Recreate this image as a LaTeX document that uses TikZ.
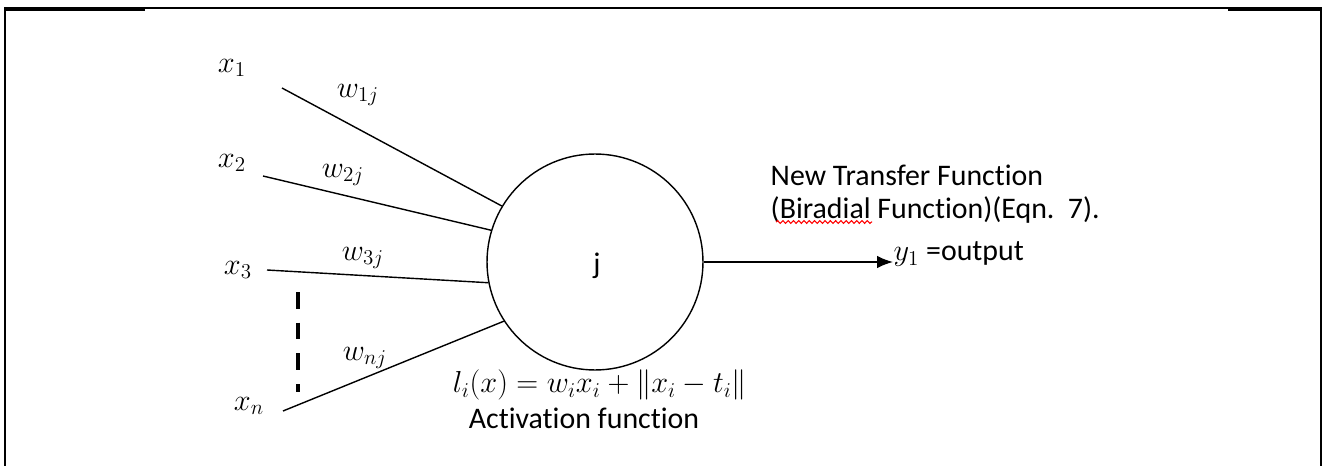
\documentclass[tikz,border=0pt]{standalone}
\usepackage{amsmath,amssymb}
\usepackage{fontspec}
\setmainfont[Ligatures=NoCommon]{Carlito}
\usepackage{tikz}
\usetikzlibrary{arrows.meta,decorations.pathmorphing}

\begin{document}
\begin{tikzpicture}[x=0.02cm,y=-0.02cm,line width=0.8pt,
  lbl/.style={font=\fontsize{18}{21}\selectfont,inner sep=0pt},
  txt/.style={font=\fontsize{17}{20}\selectfont,inner sep=0pt}]
  \useasboundingbox (0,0) rectangle (1326,466);
  % frame
  \draw (5,466) -- (5,8) -- (1321,8) -- (1321,466);
  \draw[line width=1.6pt] (5,10) -- (145,10); \draw[line width=1.6pt] (1228,10) -- (1321,10);
  % neuron j
  \node[draw,circle,minimum size=4.32cm,inner sep=0pt] (nj) at (595,262) {};
  \node[txt] (jlab) at (597,266) {j};
  % inputs and weights
  \node[lbl] (x1) at (232,68) {$x_1$}; \coordinate (s1) at (282,88);
  \node[lbl] (x2) at (232,163) {$x_2$}; \coordinate (s2) at (263,176);
  \node[lbl] (x3) at (238,270) {$x_3$}; \coordinate (s3) at (267,270);
  \node[lbl] (xn) at (249,406) {$x_n$}; \coordinate (sn) at (283,411);
  \draw (s1) -- (nj.149); \node[lbl] (w1) at (358,95) {$w_{1j}$};
  \draw (s2) -- (nj.163); \node[lbl] (w2) at (343,175) {$w_{2j}$};
  \draw (s3) -- (nj.191); \node[lbl] (w3) at (363,258) {$w_{3j}$};
  \draw (sn) -- (nj.213); \node[lbl] (wn) at (365,358) {$w_{nj}$};
  \draw[line width=2pt,dash pattern=on 9.5pt off 8pt] (298,292) -- (298,392);
  % activation
  \node[lbl] (act) at (600,385) {$l_i(x) = w_i x_i + \lVert x_i - t_i \rVert$};
  \node[txt] (actname) at (584,418) {Activation function};
  % output
  \node[txt,anchor=west] (tf1) at (770,175) {New Transfer Function};
  \node[txt,anchor=west] (tf2) at (770,210) {(Biradial Function)(Eqn.\ \ 7).};
  \draw[red,line width=0.6pt,decorate,decoration={snake,amplitude=0.8pt,segment length=3pt}] (776,222) -- (872,222);
  \node[txt,anchor=west] (out) at (893,254) {$y_1$ =output};
  \draw[-{Latex[length=9pt,width=7pt]}] (nj.east) -- (out.west |- nj.east);
\end{tikzpicture}
\end{document}
